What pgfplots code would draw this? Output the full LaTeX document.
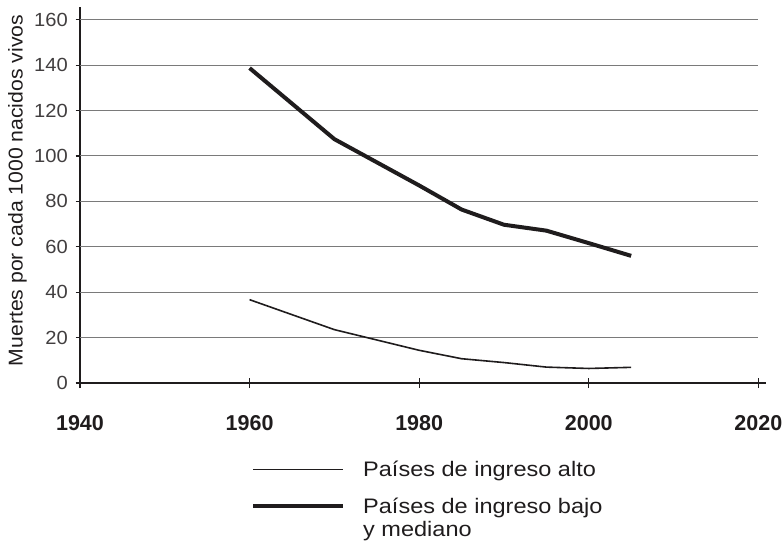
\documentclass[border=0pt]{standalone}
\usepackage{fontspec}
\setmainfont{Liberation Sans}
\newfontfamily\legfont{Liberation Sans}[FakeStretch=1.12]
\newfontfamily\labfont{Liberation Sans}[FakeStretch=1.06]
\usepackage{pgfplots}
\pgfplotsset{compat=1.18}
\definecolor{ink}{HTML}{1F1C1D}
\definecolor{gridgray}{HTML}{7A7A7A}

\begin{document}
\begin{tikzpicture}
\path[use as bounding box] (-80pt,-158pt) rectangle (703pt,383pt);
\begin{axis}[
    scale only axis,
    width=686pt, height=376pt,
    xmin=1940, xmax=2020.9,
    ymin=0, ymax=165.6,
    axis lines*=left,
    axis line style={ink, line width=2.4pt},
    xtick=\empty,
    extra x ticks={1940,1960,...,2020},
    extra x tick style={major tick length=10pt, xtick align=center},
    ytick={0,20,...,160},
    x tick style={ink, line width=1.2pt},
    y tick style={ink, line width=1.2pt},
    ytick align=outside,
    major tick length=4.5pt,
    /pgf/number format/assume math mode=true,
    /pgf/number format/1000 sep={},
    xticklabel style={font=\fontsize{21.5}{25}\selectfont\bfseries, text=ink, inner sep=0pt, anchor=north, yshift=-27pt},
    yticklabel style={font=\labfont\fontsize{19}{23}\selectfont, text=ink!85, inner sep=0pt, anchor=east, xshift=-7.5pt},
    ylabel={Muertes por cada 1000 nacidos vivos},
    ylabel style={font=\labfont\fontsize{20}{24}\selectfont, text=ink, inner sep=0pt,
        at={(axis description cs:-0.0773,0.512)}, anchor=south},
    clip=false,
]
\pgfplotsinvokeforeach{20,40,...,160}{
    \draw[gridgray, line width=1.1pt] (axis cs:1940,#1) -- (axis cs:2020,#1);
}

% Paises de ingreso alto
\addplot[ink, line width=1.6pt, line join=round] coordinates {
    (1960,36.7) (1970,23.5) (1980,14.4) (1985,10.7) (1990,9.0)
    (1995,7.0) (2000,6.4) (2005,6.9)
};
% Paises de ingreso bajo y mediano
\addplot[ink, line width=4pt, line join=round] coordinates {
    (1960,138.7) (1970,107.4) (1980,87) (1985,76.4) (1990,69.7)
    (1995,67.1) (2000,61.6) (2005,56.0)
};
\end{axis}

% leyenda
\draw[ink, line width=1.6pt] (173pt,-86.5pt) -- (263pt,-86.5pt);
\node[anchor=base west, inner sep=0pt, text=ink, font=\legfont\fontsize{21}{25}\selectfont] at (283pt,-93pt) {Países de ingreso alto};
\draw[ink, line width=4pt] (173pt,-123pt) -- (263pt,-123pt);
\node[anchor=base west, inner sep=0pt, text=ink, font=\legfont\fontsize{21}{25}\selectfont] at (283pt,-130pt) {Países de ingreso bajo};
\node[anchor=base west, inner sep=0pt, text=ink, font=\legfont\fontsize{21}{25}\selectfont] at (283pt,-153pt) {y mediano};
\end{tikzpicture}
\end{document}
